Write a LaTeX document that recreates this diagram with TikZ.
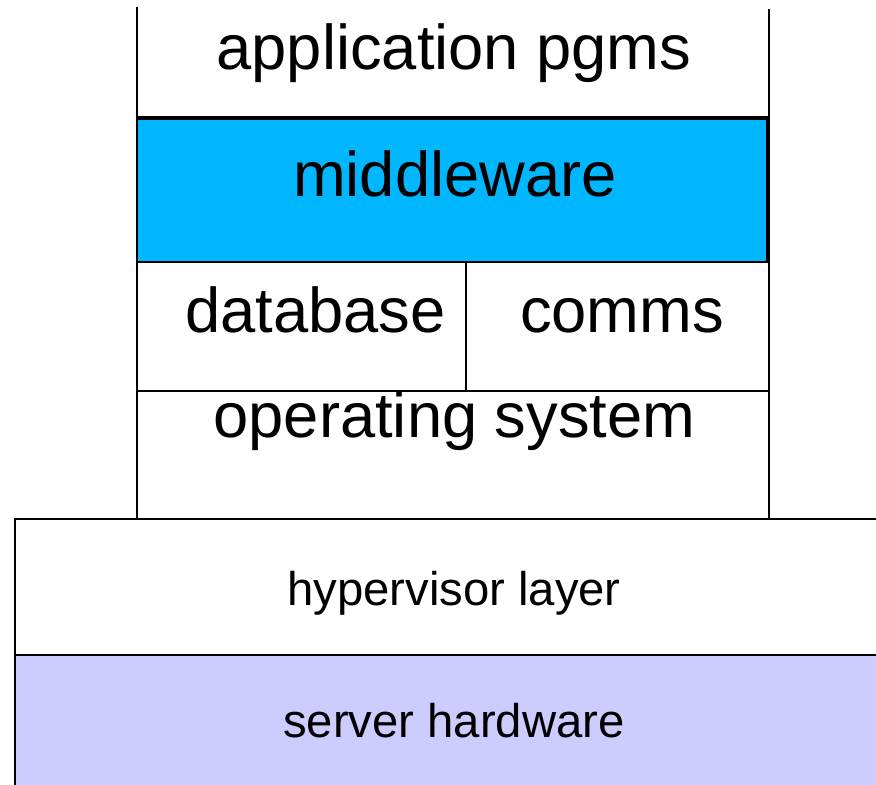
\documentclass[tikz,border=0pt]{standalone}
\usepackage{fontspec}
\setmainfont{Liberation Sans}
\usepackage{xcolor}
\usepackage{tikz}
\usetikzlibrary{positioning, calc}
\definecolor{mwblue}{RGB}{0,182,255}
\definecolor{hwlavender}{RGB}{204,204,255}

\begin{document}
\begin{tikzpicture}[scale=1, x=0.025cm, y=-0.025cm]
	\tikzstyle{layer}=[draw=black, line width=1.4pt, inner sep=0pt, outer sep=0pt, text=black]
	
	\tikzstyle{biglabel}=[font=\fontsize{45}{54}\selectfont, anchor=base, inner sep=0pt, text=black]
	
	\tikzstyle{smalllabel}=[font=\fontsize{33.6}{40}\selectfont, anchor=base, inner sep=0pt, text=black]
	
	\clip (0,0) rectangle (876,784);
	
	%% host layers
	\node [layer, fill=white, minimum width=21.875cm, minimum height=3.4cm] (hv) at (452.5,587) {};
	\node [below=0cm of hv, layer, fill=hwlavender, minimum width=21.875cm, minimum height=3.625cm] (hw) {};
	
	%% guest stack
	\coordinate (sl) at (137,7);
	\coordinate (sr) at (769,9);
	\draw [line width=1.4pt] (sl) -- (sl |- hv.north);
	\draw [line width=1.4pt] (sr) -- (sr |- hv.north);
	
	\node [layer, fill=mwblue, line width=2pt, minimum width=15.75cm, minimum height=3.575cm] (mw) at (452,190.5) {};
	
	\coordinate (appl) at (137,117);
	\draw [line width=1.4pt] (appl) -- (appl -| sr);
	\coordinate (osl) at (137,391);
	\draw [line width=1.4pt] (osl) -- (osl -| sr);
	\coordinate (dv) at (466,391);
	\draw [line width=1.4pt] (dv) -- (dv |- mw.south);
	
	\node [biglabel] (app) at (454,69) {application pgms};
	\node [biglabel] (mwtext) at (455,196) {middleware};
	\node [biglabel] (db) at (315.5,332) {database};
	\node [biglabel] (comms) at (622,332) {comms};
	\node [biglabel] (os) at (454.5,437) {operating system};
	
	\node [smalllabel] (hvtext) at (454,605) {hypervisor layer};
	\node [smalllabel] (hwtext) at (454,737) {server hardware};
\end{tikzpicture}
\end{document}
